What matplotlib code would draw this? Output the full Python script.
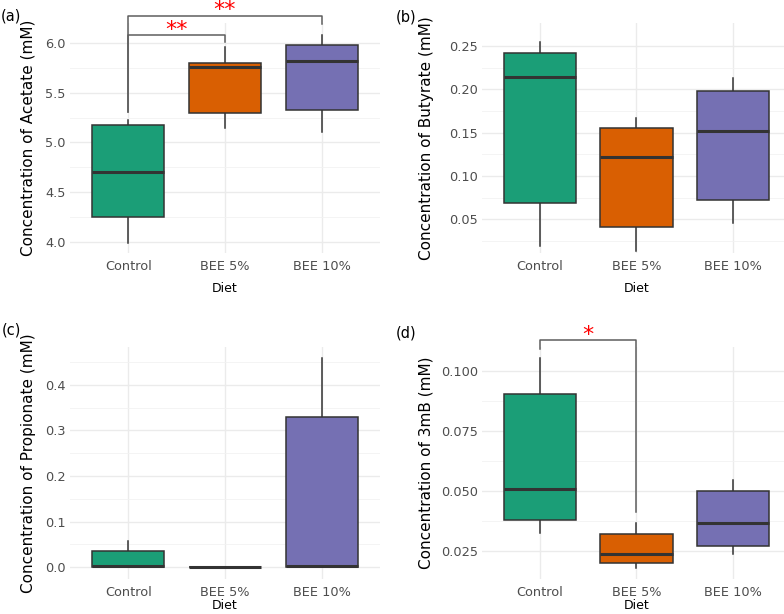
import matplotlib.pyplot as plt
from matplotlib.ticker import FixedLocator, FormatStrFormatter

''' DATA (read off the reference) '''

diets = ['Control', 'BEE 5%', 'BEE 10%']
diet_colors = ['#1B9E77', '#D95F02', '#7570B3']

# per diet: (lower whisker, q1, median, q3, upper whisker)
acetate = [(3.99, 4.25, 4.705, 5.175, 5.225),
           (5.148, 5.30, 5.76, 5.80, 5.96),
           (5.108, 5.326, 5.82, 5.977, 6.077)]
butyrate = [(0.0196, 0.0685, 0.2138, 0.2419, 0.2542),
            (0.0138, 0.0408, 0.1219, 0.1558, 0.1669),
            (0.0462, 0.0719, 0.1515, 0.1981, 0.2127)]
propionate = [(0.0, 0.0, 0.003, 0.0358, 0.0563),
              (0.0, 0.0, 0.0, 0.0, 0.0),
              (0.0, 0.0, 0.003, 0.330, 0.459)]
mb3 = [(0.0326, 0.0382, 0.0508, 0.0904, 0.1057),
       (0.0179, 0.0203, 0.0239, 0.0322, 0.0367),
       (0.0239, 0.0271, 0.0368, 0.0503, 0.0547)]

# significance brackets: (group i, group j, bracket y, leg end i, leg end j, label)
acetate_sig = [(0, 1, 6.074, 5.31, 6.01, '**'),
               (0, 2, 6.27, 5.31, 6.187, '**')]
mb3_sig = [(0, 1, 0.1129, 0.1092, 0.0414, '*')]

''' FIGURE '''

W, H = 784, 614
fig = plt.figure(figsize=(W / 100, H / 100), dpi=100)


def px_axes(x0, y0, x1, y1):
    return fig.add_axes([x0 / W, 1 - y1 / H, (x1 - x0) / W, (y1 - y0) / H])


def boxpanel(ax, stats, ylim, majors, minors, fmt, ylabel, ylab_x, diet_y):
    bxp_stats = []
    for name, s in zip(diets, stats):
        bxp_stats.append({'label': name, 'whislo': s[0], 'q1': s[1], 'med': s[2],
                          'q3': s[3], 'whishi': s[4], 'fliers': []})
    parts = ax.bxp(bxp_stats, positions=[1, 2, 3], widths=0.75, patch_artist=True,
                   showcaps=False, showfliers=False,
                   boxprops=dict(edgecolor='#333333', linewidth=1.1),
                   whiskerprops=dict(color='#333333', linewidth=1.1),
                   medianprops=dict(color='#333333', linewidth=2.2, solid_capstyle='butt'))
    for box, c in zip(parts['boxes'], diet_colors):
        box.set_facecolor(c)
    for wl in parts['whiskers']:
        wl.set_zorder(1.5)
    ax.set_xlim(0.4, 3.6)
    ax.set_ylim(*ylim)
    ax.yaxis.set_major_locator(FixedLocator(majors))
    ax.yaxis.set_minor_locator(FixedLocator(minors))
    ax.yaxis.set_major_formatter(FormatStrFormatter(fmt))
    ax.grid(True, which='major', color='#EBEBEB', linewidth=1.0)
    ax.grid(True, which='minor', axis='y', color='#F2F2F2', linewidth=0.6)
    ax.set_axisbelow(True)
    for sp in ax.spines.values():
        sp.set_visible(False)
    ax.tick_params(which='both', length=0, labelsize=9.3, labelcolor='#4D4D4D')
    ax.tick_params(axis='x', pad=5)
    ax.tick_params(axis='y', pad=3)
    ax.set_ylabel(ylabel, fontsize=11, color='black')
    ax.yaxis.set_label_coords(ylab_x, 0.5)
    ax.set_xlabel('Diet', fontsize=9, color='black')
    ax.xaxis.set_label_coords(0.5, diet_y)


def brackets(ax, sig):
    for i, j, y, end_i, end_j, lab in sig:
        xi, xj = i + 1, j + 1
        ax.plot([xi, xi, xj, xj], [end_i, y, y, end_j], color='#5E5E5E',
                linewidth=1.1, clip_on=False, zorder=3)
        ax.annotate(lab, xy=((xi + xj) / 2, y), xytext=(0, 3.8), textcoords='offset points',
                    ha='center', va='center', color='red', fontsize=16,
                    annotation_clip=False)


ax_a = px_axes(70, 23, 380, 253)
boxpanel(ax_a, acetate, (3.893, 6.197), [4.0, 4.5, 5.0, 5.5, 6.0],
         [4.25, 4.75, 5.25, 5.75], '%.1f', 'Concentration of Acetate (mM)', -0.11, -0.125)
brackets(ax_a, acetate_sig)

ax_b = px_axes(482, 23, 790.7, 253)
boxpanel(ax_b, butyrate, (0.0111, 0.2765), [0.05, 0.10, 0.15, 0.20, 0.25],
         [0.025, 0.075, 0.125, 0.175, 0.225], '%.2f', 'Concentration of Butyrate (mM)', -0.157, -0.125)

ax_c = px_axes(70, 347, 380, 579)
boxpanel(ax_c, propionate, (-0.0263, 0.4834), [0.0, 0.1, 0.2, 0.3, 0.4],
         [0.05, 0.15, 0.25, 0.35, 0.45], '%.1f', 'Concentration of Propionate (mM)', -0.11, -0.088)

ax_d = px_axes(482, 347, 790.7, 579)
boxpanel(ax_d, mb3, (0.01346, 0.1101), [0.025, 0.05, 0.075, 0.1],
         [0.0375, 0.0625, 0.0875], '%.3f', 'Concentration of 3mB (mM)', -0.157, -0.088)
brackets(ax_d, mb3_sig)

for tag, (x, y) in zip(['(a)', '(b)', '(c)', '(d)'],
                       [(11, 16), (406, 17), (11, 330), (406, 333)]):
    fig.text(x / W, 1 - y / H, tag, ha='center', va='center', fontsize=10.5)

fig.savefig('out.png', dpi=100)
